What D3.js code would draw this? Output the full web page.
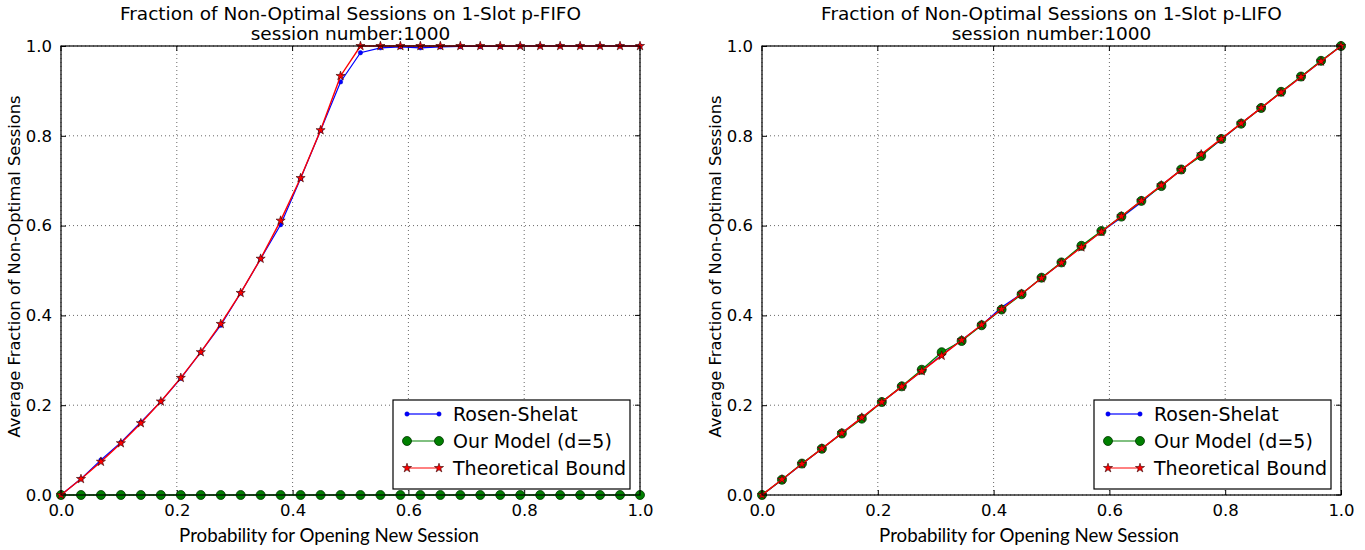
<!DOCTYPE html>
<html><head><meta charset="utf-8">
<script src="https://cdn.jsdelivr.net/npm/d3@7"></script>
<style>
body{margin:0;background:#fff;}
text{fill:#000;}
</style></head>
<body><svg id="c" width="1365" height="550"></svg>
<script>
const xs = [0,0.0345,0.069,0.1034,0.1379,0.1724,0.2069,0.2414,0.2759,0.3103,0.3448,0.3793,0.4138,0.4483,0.4828,0.5172,0.5517,0.5862,0.6207,0.6552,0.6897,0.7241,0.7586,0.7931,0.8276,0.8621,0.8966,0.931,0.9655,1.0];
const fifoRosen = [0,0.036,0.078,0.117,0.162,0.208,0.26,0.318,0.378,0.45,0.526,0.602,0.705,0.812,0.92,0.985,0.996,0.998,0.996,0.998,0.999,0.999,0.999,1.0,1.0,1.0,1.0,1.0,1.0,1.0];
const fifoModel = [0,0,0,0,0,0,0,0,0,0,0,0,0,0,0,0,0,0,0,0,0,0,0,0,0,0,0,0,0,0];
const fifoBound = [0,0.0357,0.0741,0.1154,0.16,0.2083,0.2609,0.3182,0.381,0.45,0.5263,0.6111,0.7059,0.8125,0.9333,1,1,1,1,1,1,1,1,1,1,1,1,1,1,1];
const lifoRosen = [0,0.034,0.069,0.103,0.138,0.172,0.207,0.241,0.276,0.312,0.345,0.378,0.418,0.448,0.483,0.517,0.553,0.586,0.618,0.652,0.69,0.724,0.757,0.791,0.828,0.862,0.897,0.931,0.966,1.0];
const lifoModel = [0,0.034,0.07,0.103,0.137,0.17,0.207,0.242,0.279,0.318,0.343,0.378,0.413,0.447,0.484,0.518,0.555,0.588,0.62,0.655,0.688,0.725,0.755,0.793,0.827,0.862,0.898,0.932,0.967,1.0];
const lifoBound = [0,0.0345,0.069,0.1034,0.1379,0.1724,0.2069,0.2414,0.2759,0.3103,0.3448,0.3793,0.4138,0.4483,0.4828,0.5172,0.5517,0.5862,0.6207,0.6552,0.6897,0.7241,0.7586,0.7931,0.8276,0.8621,0.8966,0.931,0.9655,1.0];
const tickVals = [0,0.2,0.4,0.6,0.8,1.0];
const tickLabels = ["0.0","0.2","0.4","0.6","0.8","1.0"];
const seriesNames = ["Rosen-Shelat","Our Model (d=5)","Theoretical Bound"];
const titles = [["Fraction of Non-Optimal Sessions on 1-Slot p-FIFO","session number:1000"],["Fraction of Non-Optimal Sessions on 1-Slot p-LIFO","session number:1000"]];
const xLabel = "Probability for Opening New Session";
const yLabel = "Average Fraction of Non-Optimal Sessions";

const svg = d3.select("#c");
const panels = [
  {x0:61, x1:640, y0:46, y1:495, data:[fifoRosen,fifoModel,fifoBound], title:titles[0], xlabX:329, ylabX:20},
  {x0:762, x1:1341, y0:46, y1:495, data:[lifoRosen,lifoModel,lifoBound], title:titles[1], xlabX:1029, ylabX:721}
];
const colors = ["#0000ff","#008000","#ff0000"];
const star = d3.symbol().type(d3.symbolStar).size(26);

function drawMarker(g, k, cx, cy){
  if(k===0){
    g.append("circle").attr("cx",cx).attr("cy",cy).attr("r",2.2).attr("fill","#0000ff").attr("stroke","#0000cc").attr("stroke-width",0.5);
  } else if(k===1){
    g.append("circle").attr("cx",cx).attr("cy",cy).attr("r",4.5).attr("fill","#008000").attr("stroke","#003300").attr("stroke-width",0.8);
  } else {
    g.append("path").attr("d",star).attr("transform",`translate(${cx},${cy})`).attr("fill","#ff0000").attr("stroke","#330000").attr("stroke-width",0.6);
  }
}

panels.forEach(p=>{
  const x = d3.scaleLinear().domain([0,1]).range([p.x0,p.x1]);
  const y = d3.scaleLinear().domain([0,1]).range([p.y1,p.y0]);
  const g = svg.append("g");
  tickVals.forEach(v=>{
    g.append("line").attr("x1",x(v)).attr("x2",x(v)).attr("y1",p.y0).attr("y2",p.y1).attr("stroke","#000").attr("stroke-width",0.6).attr("stroke-dasharray","1,3");
    g.append("line").attr("x1",p.x0).attr("x2",p.x1).attr("y1",y(v)).attr("y2",y(v)).attr("stroke","#000").attr("stroke-width",0.6).attr("stroke-dasharray","1,3");
  });
  const xa = d3.axisBottom(x).tickValues(tickVals).tickFormat((d,i)=>tickLabels[i]).tickSizeInner(-5).tickSizeOuter(0).tickPadding(9);
  const ya = d3.axisLeft(y).tickValues(tickVals).tickFormat((d,i)=>tickLabels[i]).tickSizeInner(-5).tickSizeOuter(0).tickPadding(9);
  const gx = g.append("g").attr("transform",`translate(0,${p.y1})`).call(xa);
  const gy = g.append("g").attr("transform",`translate(${p.x0},0)`).call(ya);
  [gx,gy].forEach(a=>{a.select(".domain").remove(); a.selectAll("text").attr("font-family","DejaVu Sans").attr("font-size",16.5).attr("fill","#000"); a.selectAll("line").attr("stroke","#000");});
  tickVals.forEach(v=>{
    g.append("line").attr("x1",x(v)).attr("x2",x(v)).attr("y1",p.y0).attr("y2",p.y0+5).attr("stroke","#000");
    g.append("line").attr("x1",p.x1).attr("x2",p.x1-5).attr("y1",y(v)).attr("y2",y(v)).attr("stroke","#000");
  });
  const clip = "clip"+p.x0;
  svg.append("clipPath").attr("id",clip).append("rect").attr("x",p.x0-6).attr("y",p.y0-6).attr("width",p.x1-p.x0+12).attr("height",p.y1-p.y0+12);
  const sg = g.append("g").attr("clip-path",`url(#${clip})`);
  p.data.forEach((vals,k)=>{
    const line = d3.line().x((d,i)=>x(xs[i])).y(d=>y(d));
    sg.append("path").datum(vals).attr("d",line).attr("fill","none").attr("stroke",colors[k]).attr("stroke-width",k===0?1.2:1.4);
    vals.forEach((v,i)=>drawMarker(sg,k,x(xs[i]),y(v)));
  });
  g.append("rect").attr("x",p.x0).attr("y",p.y0).attr("width",p.x1-p.x0).attr("height",p.y1-p.y0).attr("fill","none").attr("stroke","#000").attr("stroke-width",1.2);
  const cx = (p.x0+p.x1)/2;
  g.append("text").attr("x",cx).attr("y",20).attr("text-anchor","middle").attr("font-family","DejaVu Sans").attr("font-size",18.5).text(p.title[0]);
  g.append("text").attr("x",cx).attr("y",40).attr("text-anchor","middle").attr("font-family","DejaVu Sans").attr("font-size",18.5).text(p.title[1]);
  g.append("text").attr("x",p.xlabX).attr("y",542).attr("text-anchor","middle").attr("font-family","Lato").attr("font-size",18.7).attr("fill","#222").text(xLabel);
  g.append("text").attr("transform",`translate(${p.ylabX},${(p.y0+p.y1)/2-4}) rotate(-90)`).attr("text-anchor","middle").attr("font-family","DejaVu Sans").attr("font-size",16.3).attr("fill","#222").text(yLabel);
  const lx = p.x1-247, ly = 400;
  const lg = g.append("g");
  lg.append("rect").attr("x",lx).attr("y",ly).attr("width",237).attr("height",89).attr("fill","#fff").attr("stroke","#000").attr("stroke-width",1.2);
  seriesNames.forEach((n,k)=>{
    const yy = ly+14+k*27;
    lg.append("line").attr("x1",lx+14).attr("x2",lx+46).attr("y1",yy).attr("y2",yy).attr("stroke",colors[k]).attr("stroke-width",k===0?1.2:1.4).attr("opacity",k===0?1:0.7);
    drawMarker(lg,k,lx+14,yy); drawMarker(lg,k,lx+46,yy);
    lg.append("text").attr("x",lx+60).attr("y",yy+6.5).attr("font-family","DejaVu Sans").attr("font-size",19).text(n);
  });
});
</script></body></html>
